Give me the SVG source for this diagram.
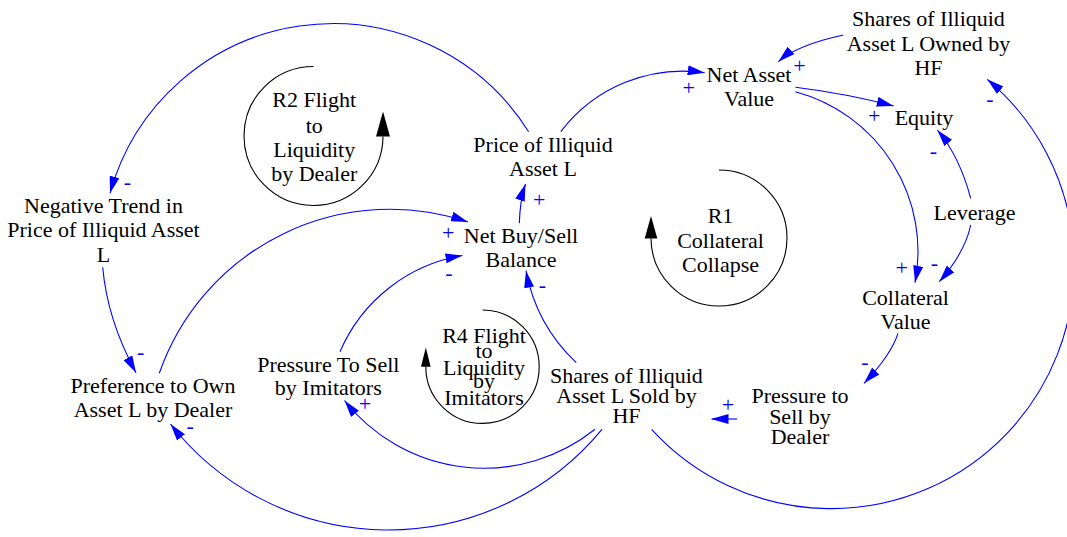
<svg xmlns="http://www.w3.org/2000/svg" width="1067" height="537" viewBox="0 0 1067 537">
<style>
.c path{fill:none;stroke:#0000ff;stroke-width:1.1}
.arc{fill:none;stroke:#000;stroke-width:1.1}
.head{fill:#000;stroke:none}
</style>
<defs>
<marker id="ah" viewBox="0 0 17 10" refX="17" refY="5" markerWidth="17" markerHeight="10" markerUnits="userSpaceOnUse" orient="auto">
<path d="M0,0 L17,5 L0,10 z" fill="#0000ff" stroke="none"/>
</marker>
</defs>
<rect width="1067" height="537" fill="#fff"/>

<g id="connectors" class="c">
<path marker-end="url(#ah)" d="M528.6,131.7 A231.2,231.2 0 0 0 110,193.3"/>
<path marker-end="url(#ah)" d="M560.8,131.7 A153.4,153.4 0 0 1 704.7,72.7"/>
<path marker-end="url(#ah)" d="M843.4,35 Q797,45 778.3,61.7"/>
<path marker-end="url(#ah)" d="M795.4,87.3 Q845.5,93.5 893.7,106"/>
<path marker-end="url(#ah)" d="M795.4,91.7 A165.4,165.4 0 0 1 915,282.7"/>
<path marker-end="url(#ah)" d="M970.7,198.3 Q959.4,156 937.3,130"/>
<path marker-end="url(#ah)" d="M970.7,225 Q965,252.5 939.3,281.7"/>
<path marker-end="url(#ah)" d="M898,333.3 Q891,355 864,383.3"/>
<path marker-end="url(#ah)" d="M737.2,419 L711.5,419"/>
<path marker-end="url(#ah)" d="M651.6,429.3 A243,243 0 1 0 987.2,79.3"/>
<path marker-end="url(#ah)" d="M576.2,362.7 A169.3,169.3 0 0 1 526,270.7"/>
<path marker-end="url(#ah)" d="M595,429.3 A177.7,177.7 0 0 1 344.5,400.5"/>
<path marker-end="url(#ah)" d="M602,429.3 A277,277 0 0 1 170.5,424"/>
<path marker-end="url(#ah)" d="M102.7,267.3 Q107.3,320 136,372.7"/>
<path marker-end="url(#ah)" d="M159.3,373.3 A244.3,244.3 0 0 1 468,222"/>
<path marker-end="url(#ah)" d="M340,351.7 A162.3,162.3 0 0 1 462.5,255.5"/>
<path marker-end="url(#ah)" d="M519.3,223.3 Q520,200 525.5,184"/>
</g>
<g id="connector_signs" font-family="Liberation Serif" font-size="22" fill="#0000ff" text-anchor="middle">
<text x="127.3" y="189">-</text>
<text x="688.6" y="95">+</text>
<text x="799.5" y="73.4">+</text>
<text x="874.2" y="123.2">+</text>
<text x="901.7" y="275">+</text>
<text x="933.3" y="157.7">-</text>
<text x="934.3" y="270">-</text>
<text x="865" y="369">-</text>
<text x="728" y="412.4">+</text>
<text x="990" y="105.7">-</text>
<text x="542.3" y="291.7">-</text>
<text x="365" y="410.7">+</text>
<text x="190.2" y="433.3">-</text>
<text x="140.7" y="359">-</text>
<text x="448.3" y="240">+</text>
<text x="449" y="280">-</text>
<text x="539.3" y="207.4">+</text>
</g>

<g id="loop_r2">
<path class="arc" d="M313.5,66.5 A69.5,69.5 0 1 0 383,136.5"/>
<path class="head" d="M383,111.5 L390,136.5 L376,136.5 z"/>
<text font-family="Liberation Serif" font-size="22" text-anchor="middle"><tspan x="314.2" y="107.3">R2 Flight</tspan><tspan x="314.2" y="132.7">to</tspan><tspan x="314.2" y="156.7">Liquidity</tspan><tspan x="314.2" y="180.7">by Dealer</tspan></text>
</g>
<g id="loop_r1">
<path class="arc" d="M719,170 A68,68 0 1 1 651,238.5"/>
<path class="head" d="M651,216 L657.3,238.5 L644.7,238.5 z"/>
<text font-family="Liberation Serif" font-size="22" text-anchor="middle"><tspan x="720.5" y="222.7">R1</tspan><tspan x="720.5" y="248">Collateral</tspan><tspan x="720.5" y="271.7">Collapse</tspan></text>
</g>
<g id="loop_r4">
<path class="arc" d="M482.5,310 A56.7,56.7 0 1 1 425.8,366.7"/>
<path class="head" d="M425.8,347.5 L430.6,366.7 L421,366.7 z"/>
<text font-family="Liberation Serif" font-size="22" text-anchor="middle"><tspan x="484" y="343.3">R4 Flight</tspan><tspan x="484" y="358.3">to</tspan><tspan x="484" y="375">Liquidity</tspan><tspan x="484" y="388">by</tspan><tspan x="484" y="405">Imitators</tspan></text>
</g>

<g id="n_shares_owned"><text font-family="Liberation Serif" font-size="22" text-anchor="middle"><tspan x="928.5" y="26">Shares of Illiquid</tspan><tspan x="928.5" y="50.5">Asset L Owned by</tspan><tspan x="928.5" y="75">HF</tspan></text></g>
<g id="n_nav"><text font-family="Liberation Serif" font-size="22" text-anchor="middle"><tspan x="749" y="81.7">Net Asset</tspan><tspan x="749" y="105.5">Value</tspan></text></g>
<g id="n_equity"><text font-family="Liberation Serif" font-size="22" text-anchor="middle" x="924" y="125">Equity</text></g>
<g id="n_price"><text font-family="Liberation Serif" font-size="22" text-anchor="middle"><tspan x="543" y="151.5">Price of Illiquid</tspan><tspan x="543" y="175.5">Asset L</tspan></text></g>
<g id="n_leverage"><text font-family="Liberation Serif" font-size="22" text-anchor="middle" x="974.5" y="220">Leverage</text></g>
<g id="n_negtrend"><text font-family="Liberation Serif" font-size="22" text-anchor="middle"><tspan x="103.5" y="212.5">Negative Trend in</tspan><tspan x="103.5" y="237">Price of Illiquid Asset</tspan><tspan x="103.5" y="261.5">L</tspan></text></g>
<g id="n_netbuy"><text font-family="Liberation Serif" font-size="22" text-anchor="middle"><tspan x="521" y="243">Net Buy/Sell</tspan><tspan x="521" y="267">Balance</tspan></text></g>
<g id="n_collateral"><text font-family="Liberation Serif" font-size="22" text-anchor="middle"><tspan x="905.5" y="304.5">Collateral</tspan><tspan x="905.5" y="329">Value</tspan></text></g>
<g id="n_press_imit"><text font-family="Liberation Serif" font-size="22" text-anchor="middle"><tspan x="328.3" y="371.7">Pressure To Sell</tspan><tspan x="328.3" y="395">by Imitators</tspan></text></g>
<g id="n_shares_sold"><text font-family="Liberation Serif" font-size="22" text-anchor="middle"><tspan x="626.5" y="382.5">Shares of Illiquid</tspan><tspan x="626.5" y="403">Asset L Sold by</tspan><tspan x="626.5" y="423">HF</tspan></text></g>
<g id="n_press_dealer"><text font-family="Liberation Serif" font-size="22" text-anchor="middle"><tspan x="800" y="403.3">Pressure to</tspan><tspan x="800" y="424">Sell by</tspan><tspan x="800" y="443.5">Dealer</tspan></text></g>
<g id="n_pref"><text font-family="Liberation Serif" font-size="22" text-anchor="middle"><tspan x="153" y="393.3">Preference to Own</tspan><tspan x="153" y="416.7">Asset L by Dealer</tspan></text></g>
</svg>
